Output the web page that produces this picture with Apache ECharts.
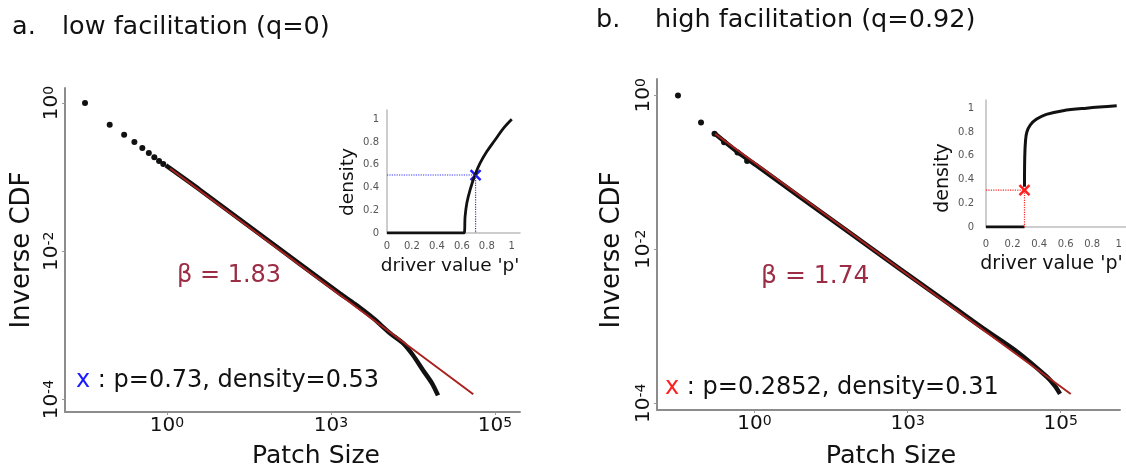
<!DOCTYPE html>
<html>
<head>
<meta charset="utf-8">
<script src="https://cdn.jsdelivr.net/npm/echarts@6/dist/echarts.min.js"></script>
<style>
  html, body { margin: 0; padding: 0; background: #fff; }
  #chart { width: 1126px; height: 470px; }
</style>
</head>
<body>
<div id="chart"></div>
<script>
// panel a: low facilitation (q=0)
const dotSizeA = [1, 2, 3, 4, 5, 6, 7, 8, 9];
const dotCdfA = [1, 0.509, 0.373, 0.298, 0.247, 0.212, 0.186, 0.166, 0.151];
const curveSizeA = [9.7, 25.3, 103, 419, 1288, 1963, 3251, 5243, 7551, 10000, 13250, 17060, 20180];
const curveCdfA = [0.144, 0.0673, 0.0213, 0.00673, 0.00269, 0.00194, 0.00126, 0.000787, 0.000577, 0.000397, 0.000249, 0.000166, 0.000114];
const fitSizeA = [10.9, 54330];
const fitCdfA = [0.131, 0.000118];
const insetPA = [0, 0.618, 0.626, 0.64, 0.666, 0.706, 0.746, 0.8, 0.866, 0.933, 1.0];
const insetDensA = [0, 0, 0.146, 0.263, 0.38, 0.512, 0.614, 0.716, 0.818, 0.92, 1.0];
const markA = [0.71, 0.51];

// panel b: high facilitation (q=0.92)
const dotSizeB = [1, 2, 3, 4, 6, 8];
const dotCdfB = [1, 0.446, 0.318, 0.247, 0.181, 0.14];
const curveSizeB = [3.05, 5.94, 11.9, 39.5, 178, 798, 3589, 9683, 26900, 66330, 84330, 97900];
const curveCdfB = [0.318, 0.186, 0.1134, 0.0476, 0.0162, 0.00553, 0.00191, 0.00094, 0.000467, 0.000219, 0.000167, 0.000132];
const fitSizeB = [3.05, 135100];
const fitCdfB = [0.318, 0.000132];
const insetPB0 = [0, 0.29];
const insetDensB0 = [0, 0];
const insetPB = [0.29, 0.292, 0.298, 0.308, 0.333, 0.379, 0.455, 0.58, 0.758, 0.985];
const insetDensB = [0.338, 0.59, 0.73, 0.8, 0.858, 0.906, 0.948, 0.979, 1.0, 1.02];
const markB = [0.29, 0.31];

// tick labels (as printed on the figure)
const xTickVals = [10, 1000, 100000];
const xTickSup = ['0', '3', '5'];
const yTickVals = [1, 0.01, 0.0001];
const yTickSup = ['0', '-2', '-4'];
const insetTicks = [0, 0.2, 0.4, 0.6, 0.8, 1];

const FONT = 'DejaVu Sans';
const pts = (xs, ys) => xs.map((x, i) => [x, ys[i]]);
const findIdx = (vals, v) => vals.findIndex(t => Math.abs(t - v) / t < 1e-6);

const richLbl = {
  b: { fontSize: 20, fontFamily: FONT, color: '#111' },
  s: { fontSize: 14, fontFamily: FONT, color: '#111', lineHeight: 12, verticalAlign: 'top' }
};

function mainX(grid, min, max) {
  return {
    type: 'log', gridIndex: grid, min: min, max: max, logBase: 10,
    axisLine: { lineStyle: { color: '#8c8c8c', width: 2 } },
    axisTick: { customValues: xTickVals, length: 3, lineStyle: { color: '#999' } },
    axisLabel: {
      customValues: xTickVals, margin: 4,
      formatter: v => '{b|10}{s|' + xTickSup[findIdx(xTickVals, v)] + '}',
      rich: richLbl
    },
    splitLine: { show: false }
  };
}
function mainY(grid, min, max) {
  return {
    type: 'log', gridIndex: grid, min: min, max: max, logBase: 10,
    axisLine: { lineStyle: { color: '#8c8c8c', width: 2 } },
    axisTick: { customValues: yTickVals, length: 3, lineStyle: { color: '#999' } },
    axisLabel: {
      customValues: yTickVals, margin: 3, rotate: 90,
      formatter: v => '{b|10}{s|' + yTickSup[findIdx(yTickVals, v)] + '}',
      rich: richLbl
    },
    splitLine: { show: false }
  };
}
function insetAxis(grid, max, margin) {
  return {
    type: 'value', gridIndex: grid, min: 0, max: max,
    axisLine: { lineStyle: { color: '#bdbdbd', width: 1.5 } },
    axisTick: { show: false },
    axisLabel: { customValues: insetTicks, margin: margin, fontSize: 10, fontFamily: FONT, color: '#555' },
    splitLine: { show: false }
  };
}

function txt(text, x, y, size, color, opts) {
  return Object.assign({
    type: 'text', x: x, y: y, silent: true,
    style: {
      text: text, fontSize: size, fontFamily: FONT, fill: color || '#111',
      align: 'left', verticalAlign: 'middle', textAlign: 'left', textVerticalAlign: 'middle'
    }
  }, opts || {});
}
function ctxt(text, x, y, size, rot) {
  const t = txt(text, x, y, size, '#111', rot ? { rotation: rot } : {});
  t.style.align = t.style.textAlign = 'center';
  return t;
}

const xSymbol = 'path://M0,0L10,10M10,0L0,10';
const dotStyle = { color: '#111', opacity: 1 };

const chart = echarts.init(document.getElementById('chart'));
chart.setOption({
  animation: false,
  grid: [
    { left: 65, top: 88, width: 455, height: 324, outerBoundsMode: 'none' },
    { left: 657, top: 79, width: 463, height: 331, outerBoundsMode: 'none' },
    { left: 387, top: 110, width: 133, height: 123, outerBoundsMode: 'none' },
    { left: 986, top: 100, width: 140, height: 127, outerBoundsMode: 'none' }
  ],
  xAxis: [
    mainX(0, 0.570, 201800),
    mainX(1, 0.532, 594300),
    insetAxis(2, 1.066, 8),
    insetAxis(3, 1.055, 12)
  ],
  yAxis: [
    mainY(0, 6.81e-5, 1.596),
    mainY(1, 8.17e-5, 1.633),
    insetAxis(2, 1.082, 8),
    insetAxis(3, 1.069, 12)
  ],
  series: [
    // panel a
    { type: 'scatter', xAxisIndex: 0, yAxisIndex: 0, data: pts(dotSizeA, dotCdfA),
      symbolSize: 6, itemStyle: dotStyle },
    { type: 'line', xAxisIndex: 0, yAxisIndex: 0, data: pts(curveSizeA, curveCdfA),
      showSymbol: false, smooth: 0.3, lineStyle: { color: '#111', width: 4.5 } },
    { type: 'line', xAxisIndex: 0, yAxisIndex: 0, data: pts(fitSizeA, fitCdfA),
      showSymbol: false, lineStyle: { color: '#a8221f', width: 2 } },
    // panel b
    { type: 'scatter', xAxisIndex: 1, yAxisIndex: 1, data: pts(dotSizeB, dotCdfB),
      symbolSize: 6, itemStyle: dotStyle },
    { type: 'line', xAxisIndex: 1, yAxisIndex: 1, data: pts(curveSizeB, curveCdfB),
      showSymbol: false, smooth: 0.3, lineStyle: { color: '#111', width: 4.5 } },
    { type: 'line', xAxisIndex: 1, yAxisIndex: 1, data: pts(fitSizeB, fitCdfB),
      showSymbol: false, lineStyle: { color: '#a8221f', width: 2 } },
    // inset a
    { type: 'line', xAxisIndex: 2, yAxisIndex: 2, data: pts(insetPA, insetDensA),
      showSymbol: false, smooth: 0.35, lineStyle: { color: '#111', width: 2.8 } },
    { type: 'line', xAxisIndex: 2, yAxisIndex: 2,
      data: [[0, markA[1]], markA, [markA[0], 0]],
      showSymbol: false, lineStyle: { color: '#3535ff', width: 1.2, type: 'dotted' } },
    { type: 'scatter', xAxisIndex: 2, yAxisIndex: 2, data: [markA], symbol: xSymbol, symbolSize: 10,
      itemStyle: { color: '#1f1fff', borderColor: '#1f1fff', borderWidth: 2.5, opacity: 1 } },
    // inset b
    { type: 'line', xAxisIndex: 3, yAxisIndex: 3, data: pts(insetPB0, insetDensB0),
      showSymbol: false, lineStyle: { color: '#111', width: 2.8 } },
    { type: 'line', xAxisIndex: 3, yAxisIndex: 3, data: pts(insetPB, insetDensB),
      showSymbol: false, smooth: 0.35, lineStyle: { color: '#111', width: 3 } },
    { type: 'line', xAxisIndex: 3, yAxisIndex: 3,
      data: [[0, markB[1]], markB, [markB[0], 0]],
      showSymbol: false, lineStyle: { color: '#ff2a2a', width: 1.2, type: 'dotted' } },
    { type: 'scatter', xAxisIndex: 3, yAxisIndex: 3, data: [markB], symbol: xSymbol, symbolSize: 10,
      itemStyle: { color: '#ff1f1f', borderColor: '#ff1f1f', borderWidth: 2.5, opacity: 1 } }
  ],
  graphic: [
    txt('a.', 12, 27, 25.5, '#111'),
    txt('low facilitation (q=0)', 62, 27, 25.5, '#111'),
    txt('b.', 596, 20, 25.5, '#111'),
    txt('high facilitation (q=0.92)', 655, 20, 25.5, '#111'),
    ctxt('Inverse CDF', 22.5, 250, 26, Math.PI / 2),
    ctxt('Inverse CDF', 612, 250, 26, Math.PI / 2),
    ctxt('Patch Size', 316, 456, 25),
    ctxt('Patch Size', 891, 456, 25.5),
    txt('\u03b2 = 1.83', 177, 275.5, 24, '#9b2d45'),
    txt('\u03b2 = 1.74', 761, 276.5, 25, '#9b2d45'),
    txt('x', 76, 380.5, 24, '#1a1aff'),
    txt(' : p=0.73, density=0.53', 90.2, 380.5, 24, '#111'),
    txt('x', 665, 388, 24, '#ff1f1f'),
    txt(' : p=0.2852, density=0.31', 679.2, 388, 24, '#111'),
    ctxt('density', 347.7, 182, 18.5, Math.PI / 2),
    ctxt("driver value 'p'", 450, 266, 18.5),
    ctxt('density', 943, 178, 19, Math.PI / 2),
    ctxt("driver value 'p'", 1051.5, 264, 19)
  ]
});
</script>
</body>
</html>
